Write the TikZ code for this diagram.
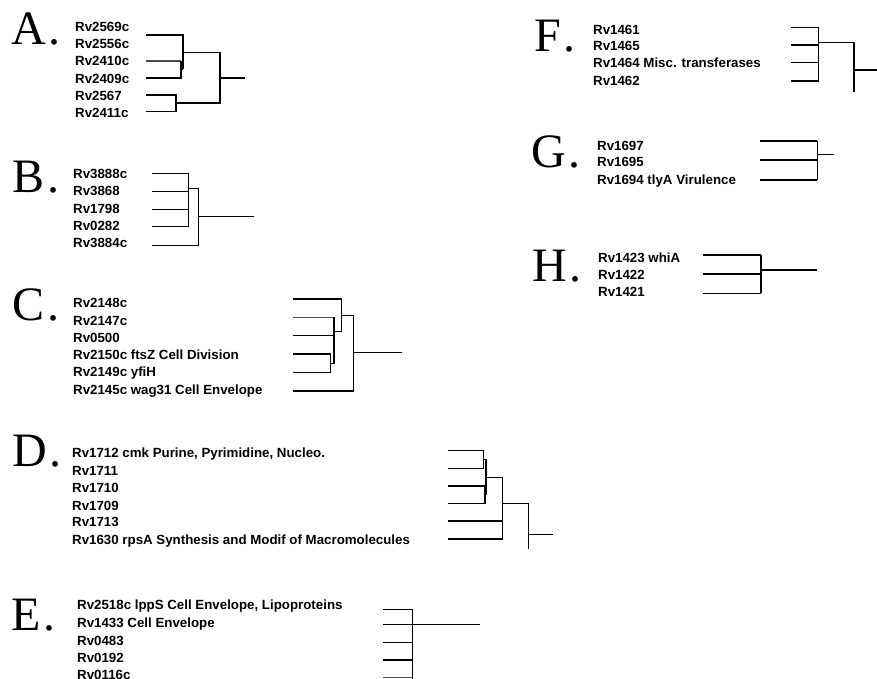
\documentclass[tikz,border=0pt]{standalone}
\usepackage{fontspec}
\setmainfont{Liberation Serif}
\newfontfamily\labfont{Liberation Sans}
\newcommand{\pdot}{\kern3pt.}
\begin{document}
\begin{tikzpicture}[x=1pt,y=-1pt,
  letter/.style={anchor=base west, inner sep=0pt, font=\fontsize{48}{48}\selectfont},
  lab/.style={anchor=west, inner sep=0pt, text height=9.5pt, text depth=0pt, font=\labfont\bfseries\fontsize{13.3}{14}\selectfont},
  tree/.style={line width=1.2pt, black},
  treeg/.style={line width=1.2pt, black!70}]
\useasboundingbox (0,0) rectangle (877,679);
\fill[white] (0,0) rectangle (877,679);
% ---------- A ----------
\node[letter] (LA) at (11,45) {A\pdot};
\node[lab] (a1) at (75,26.5) {Rv2569c};
\node[lab] (a2) at (75,43.5) {Rv2556c};
\node[lab] (a3) at (75,61) {Rv2410c};
\node[lab] (a4) at (75,78.5) {Rv2409c};
\node[lab] (a5) at (75,95.5) {Rv2567};
\node[lab] (a6) at (75,112.7) {Rv2411c};
\draw[tree] (146,35)--(183,35)--(183,69.5);
\draw[treeg] (146,61)--(181,61);
\draw[tree] (181,61)--(181,78)--(146,78);
\draw[tree] (181,69.5)--(183,69.5);
\draw[tree] (183,52.5)--(220,52.5)--(220,103)--(176,103);
\draw[tree] (146,95)--(176,95)--(176,111.5)--(146,111.5);
\draw[tree] (220,78)--(245,78);
% ---------- B ----------
\node[letter] (LB) at (12,193) {B\pdot};
\node[lab] (b1) at (73,173.5) {Rv3888c};
\node[lab] (b2) at (73,191) {Rv3868};
\node[lab] (b3) at (73,208.5) {Rv1798};
\node[lab] (b4) at (73,225.5) {Rv0282};
\node[lab] (b5) at (73,243) {Rv3884c};
\draw[tree] (152,173.3)--(188.3,173.3)--(188.3,226.7)--(152,226.7);
\draw[tree] (152,191.7)--(188.3,191.7);
\draw[tree] (152,209.3)--(188.3,209.3);
\draw[tree] (188.3,188.3)--(198.7,188.3)--(198.7,245.3)--(152,245.3);
\draw[tree] (198.7,216.7)--(254.3,216.7);
% ---------- C ----------
\node[letter] (LC) at (12,320) {C\pdot};
\node[lab] (c1) at (73,303) {Rv2148c};
\node[lab] (c2) at (73,320.5) {Rv2147c};
\node[lab] (c3) at (73,338) {Rv0500};
\node[lab] (c4) at (73,354.7) {Rv2150c ftsZ Cell Division};
\node[lab] (c5) at (73,372) {Rv2149c yfiH};
\node[lab] (c6) at (73,389.5) {Rv2145c wag31 Cell Envelope};
\draw[tree] (293,299)--(341.7,299)--(341.7,331.7)--(334,331.7);
\draw[treeg] (293,317.3)--(334,317.3);
\draw[tree] (334,317.3)--(334,363.3)--(330.7,363.3);
\draw[tree] (293,335.7)--(334,335.7);
\draw[tree] (293,354)--(330.7,354)--(330.7,372.7)--(293,372.7);
\draw[tree] (341.7,315.7)--(353.3,315.7)--(353.3,391)--(293,391);
\draw[tree] (353.3,352.7)--(401.7,352.7);
% ---------- D ----------
\node[letter] (LD) at (12,466.5) {D\pdot};
\node[lab] (d1) at (72,452.8) {Rv1712 cmk Purine, Pyrimidine, Nucleo.};
\node[lab] (d2) at (72,470.5) {Rv1711};
\node[lab] (d3) at (72,488) {Rv1710};
\node[lab] (d4) at (72,505.3) {Rv1709};
\node[lab] (d5) at (72,522) {Rv1713};
\node[lab] (d6) at (72,539.5) {Rv1630 rpsA Synthesis and Modif of Macromolecules};
\draw[tree] (448,450.7)--(483.3,450.7)--(483.3,468.3)--(448,468.3);
\draw[tree] (483.3,459.5)--(486,459.5)--(486,494.7);
\draw[tree] (448,486)--(485,486)--(485,503.3)--(448,503.3);
\draw[tree] (486,477.7)--(502.7,477.7)--(502.7,539)--(448,539);
\draw[tree] (448,521)--(502.7,521);
\draw[tree] (502.7,503.3)--(528.7,503.3)--(528.7,549.3);
\draw[tree] (528.7,534.3)--(552.7,534.3);
% ---------- E ----------
\node[letter] (LE) at (11,630) {E\pdot};
\node[lab] (e1) at (77,605) {Rv2518c lppS Cell Envelope, Lipoproteins};
\node[lab] (e2) at (77,622.8) {Rv1433 Cell Envelope};
\node[lab] (e3) at (77,640.5) {Rv0483};
\node[lab] (e4) at (77,658) {Rv0192};
\node[lab] (e5) at (77,674.5) {Rv0116c};
\draw[tree] (383.3,609.3)--(412.3,609.3);
\draw[tree] (383.3,624.3)--(412.3,624.3);
\draw[tree] (383.3,642.7)--(412.3,642.7);
\draw[tree] (383.3,660)--(412.3,660);
\draw[treeg] (383.3,677.7)--(412.3,677.7);
\draw[tree] (412.3,609.3)--(412.3,679);
\draw[tree] (412.3,624.3)--(480,624.3);
% ---------- F ----------
\node[letter] (LF) at (534,51.5) {F\pdot};
\node[lab] (f1) at (593,30) {Rv1461};
\node[lab] (f2) at (593,45.7) {Rv1465};
\node[lab] (f3) at (593,62.8) {Rv1464 Misc. transferases};
\node[lab] (f4) at (593,80.5) {Rv1462};
\draw[tree] (791,27.3)--(818.5,27.3);
\draw[tree] (791,45)--(818.5,45);
\draw[tree] (791,62.7)--(818.5,62.7);
\draw[tree] (791,81)--(818.5,81);
\draw[tree] (818.5,27.3)--(818.5,81);
\draw[tree] (818.5,42.3)--(854,42.3)--(854,91.7);
\draw[tree] (854,70)--(877,70);
% ---------- G ----------
\node[letter] (LG) at (531,167.5) {G\pdot};
\node[lab] (g1) at (597,145.3) {Rv1697};
\node[lab] (g2) at (597,162) {Rv1695};
\node[lab] (g3) at (597,180) {Rv1694 tlyA Virulence};
\draw[tree] (760,141)--(817.3,141);
\draw[tree] (760,160)--(817.3,160);
\draw[tree] (760,180)--(817.3,180);
\draw[tree] (817.3,141)--(817.3,180);
\draw[tree] (817.3,154.3)--(834,154.3);
% ---------- H ----------
\node[letter] (LH) at (532,281.7) {H\pdot};
\node[lab] (h1) at (598,257.5) {Rv1423 whiA};
\node[lab] (h2) at (598,274.7) {Rv1422};
\node[lab] (h3) at (598,292) {Rv1421};
\draw[tree] (702.7,255)--(761,255);
\draw[tree] (702.7,274)--(761,274);
\draw[tree] (702.7,293.3)--(761,293.3);
\draw[tree] (761,255)--(761,293.3);
\draw[tree] (761,270)--(816.7,270);
\end{tikzpicture}
\end{document}
